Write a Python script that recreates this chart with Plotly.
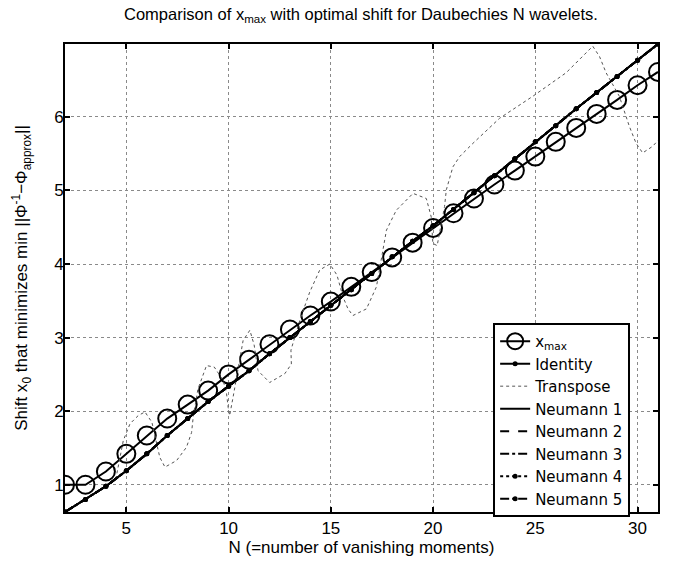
import plotly.graph_objects as go

# ---- data ----
n_values = list(range(2, 32))

x_max = [1.00, 1.00, 1.18, 1.42, 1.67, 1.90, 2.09, 2.28, 2.50, 2.70,
         2.91, 3.11, 3.30, 3.49, 3.69, 3.89, 4.09, 4.29, 4.49, 4.69,
         4.89, 5.08, 5.27, 5.46, 5.66, 5.85, 6.04, 6.23, 6.43, 6.61]

identity = [0.63, 0.80, 0.98, 1.19, 1.42, 1.67, 1.90, 2.13, 2.34, 2.55,
            2.78, 3.00, 3.22, 3.44, 3.65, 3.87, 4.10, 4.31, 4.52, 4.74,
            4.97, 5.20, 5.43, 5.66, 5.88, 6.11, 6.33, 6.55, 6.77, 6.99]

neumann1 = [0.63, 0.80, 0.98, 1.19, 1.42, 1.67, 1.90, 2.13, 2.34, 2.55,
            2.78, 3.00, 3.22, 3.44, 3.65, 3.87, 4.10, 4.31, 4.52, 4.74,
            4.97, 5.20, 5.43, 5.66, 5.88, 6.11, 6.33, 6.55, 6.77, 6.99]
neumann2 = list(neumann1)
neumann3 = list(neumann1)
neumann4 = list(neumann1)
neumann5 = list(neumann1)

transpose_n = [2, 3, 4, 4.5, 4.85, 5.18, 5.58, 5.91, 6.25, 6.45, 6.64, 6.89,
               7.46, 7.94, 8.19, 8.27, 8.5, 8.92, 9.3, 9.73, 9.9, 9.98, 10.05,
               10.22, 10.71, 11.04, 11.25, 11.44, 12.01, 12.75, 13.07, 13.05,
               13.5, 13.97, 14.46, 14.95, 15.3, 15.6, 15.84, 16.08, 16.74,
               17.23, 17.4, 17.72, 18.2, 19.02, 19.67, 19.91, 19.99, 20.2,
               20.56, 20.65, 20.97, 21.3, 21.95, 23.25, 24.88, 26.51, 27.81,
               28.14, 28.46, 29.11, 29.6, 29.93, 30.25, 30.74, 31]
transpose_v = [0.63, 0.80, 0.98, 1.10, 1.60, 1.83, 1.94, 1.99, 1.85, 1.60,
               1.37, 1.24, 1.33, 1.51, 1.71, 1.92, 2.30, 2.62, 2.60, 2.42,
               2.24, 2.05, 1.94, 2.19, 2.96, 3.10, 2.90, 2.55, 2.39, 2.51,
               2.64, 2.83, 3.25, 3.62, 3.92, 4.00, 3.85, 3.55, 3.39, 3.30,
               3.39, 3.69, 3.95, 4.46, 4.73, 4.96, 4.89, 4.64, 4.28, 4.25,
               4.78, 5.01, 5.32, 5.46, 5.64, 5.98, 6.28, 6.60, 6.96, 6.82,
               6.60, 6.28, 5.87, 5.64, 5.51, 5.60, 5.68]

x_ticks = [5, 10, 15, 20, 25, 30]
y_ticks = [1, 2, 3, 4, 5, 6]

FONT = "Liberation Sans, Arial, Helvetica, sans-serif"
LEGEND_FONT = "DejaVu Sans, Liberation Sans, sans-serif"

fig = go.Figure()

fig.add_trace(go.Scatter(
    x=n_values, y=x_max, name="x<sub>max</sub>", mode="lines+markers",
    line=dict(color="black", width=2),
    marker=dict(symbol="circle-open", size=18, color="black", line=dict(width=2)),
    legendgroup="a"))
fig.add_trace(go.Scatter(
    x=n_values, y=identity, name="Identity", mode="lines+markers",
    line=dict(color="black", width=2),
    marker=dict(symbol="circle", size=5, color="black"),
    legendgroup="b"))
fig.add_trace(go.Scatter(
    x=transpose_n, y=transpose_v, name="Transpose", mode="lines",
    line=dict(color="#555555", width=1, dash="dot"),
    legendgroup="c"))
fig.add_trace(go.Scatter(
    x=n_values, y=neumann1, name="Neumann 1", mode="lines",
    line=dict(color="black", width=2), legendgroup="d"))
fig.add_trace(go.Scatter(
    x=n_values, y=neumann2, name="Neumann 2", mode="lines",
    line=dict(color="black", width=2, dash="dash"), legendgroup="e"))
fig.add_trace(go.Scatter(
    x=n_values, y=neumann3, name="Neumann 3", mode="lines",
    line=dict(color="black", width=2, dash="dashdot"), legendgroup="f"))
fig.add_trace(go.Scatter(
    x=n_values, y=neumann4, name="Neumann 4", mode="lines+markers",
    line=dict(color="black", width=2, dash="dot"),
    marker=dict(symbol="circle", size=5, color="black"), legendgroup="g"))
fig.add_trace(go.Scatter(
    x=n_values, y=neumann5, name="Neumann 5", mode="lines+markers",
    line=dict(color="black", width=2, dash="dashdot"),
    marker=dict(symbol="circle", size=5, color="black"), legendgroup="h"))

ymin = min(identity)
ymax = max(identity)

axis_common = dict(
    showline=True, linecolor="black", linewidth=2, mirror="ticks",
    ticks="inside", ticklen=5, tickwidth=2, tickcolor="black",
    showgrid=True, gridcolor="#8a8a8a", gridwidth=1, griddash="dot",
    zeroline=False, tickfont=dict(family=FONT, size=17, color="black"),
)

fig.update_xaxes(range=[min(n_values), max(n_values)], tickvals=x_ticks,
                 title=dict(text="N (=number of vanishing moments)",
                            font=dict(family=FONT, size=17, color="black"),
                            standoff=0),
                 **axis_common)
fig.update_yaxes(range=[ymin, ymax], tickvals=y_ticks, ticklabelstandoff=-4,
                 title=dict(text="Shift x<sub>0</sub> that minimizes min ||Φ<sup>-1</sup>−Φ<sub>approx</sub>||",
                            font=dict(family=FONT, size=17, color="black"),
                            standoff=22),
                 **axis_common)

fig.update_layout(
    width=685, height=562,
    margin=dict(l=65, r=27, t=44, b=50),
    paper_bgcolor="white", plot_bgcolor="white",
    title=dict(text="Comparison of x<sub>max</sub> with optimal shift for Daubechies N wavelets.",
               font=dict(family=FONT, size=16.5, color="black"),
               x=0.527, xanchor="center", y=0.975, yanchor="middle"),
    legend=dict(x=0.722, y=0.404, xanchor="left", yanchor="top",
                bordercolor="black", borderwidth=2, bgcolor="white",
                font=dict(family=LEGEND_FONT, size=15, color="black"),
                tracegroupgap=0, itemwidth=30),
    showlegend=True,
)

fig.write_html("out.html")
